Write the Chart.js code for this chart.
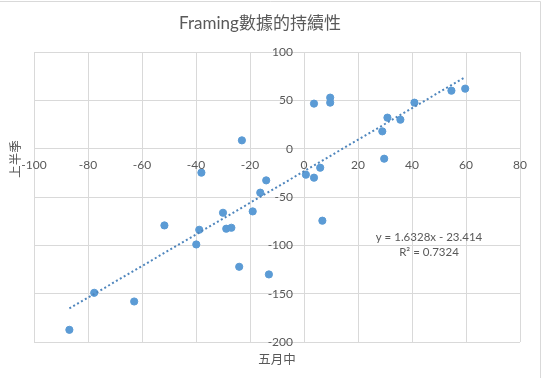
<!DOCTYPE html>
<html>
<head>
<meta charset="utf-8">
<script src="https://cdn.jsdelivr.net/npm/chart.js@4"></script>
<style>
html,body{margin:0;padding:0;background:#fff;}
#wrap{width:542px;height:378px;position:relative;}
</style>
</head>
<body>
<div id="wrap"><canvas id="c" width="542" height="378"></canvas></div>
<script>
const chartTitle = 'Framing數據的持續性';
const xAxisTitle = '五月中';
const yAxisTitle = '上半季';
const xTicks = [-100, -80, -60, -40, -20, 0, 20, 40, 60, 80];
const yTicks = [-200, -150, -100, -50, 0, 50, 100];
const xValues = [-86.9, -77.7, -62.9, -51.7, -38.0, -38.8, -39.9, -30.0, -28.8, -26.9, -24.0, -23.0, -19.0, -16.2, -14.0, -13.0, 0.7, 3.7, 6.0, 6.8, 3.7, 9.7, 9.7, 29.0, 30.9, 29.7, 35.7, 40.9, 54.6, 59.7];
const yValues = [-187.4, -149.1, -158.1, -79.4, -24.8, -83.9, -99.1, -66.3, -82.8, -81.8, -122.2, 8.6, -64.9, -45.5, -32.8, -130.1, -26.9, -30.0, -19.7, -74.5, 46.6, 52.8, 47.6, 17.9, 32.1, -10.4, 30.0, 47.6, 60.0, 62.1];
const trendSlope = 1.6328;
const trendIntercept = -23.414;
const trendR2 = 0.7324;

const points = xValues.map((x, i) => ({x: x, y: yValues[i]}));
const xMinData = Math.min(...xValues);
const xMaxData = Math.max(...xValues);
const trendPoints = [xMinData, xMaxData].map(x => ({x: x, y: trendSlope * x + trendIntercept}));

const textColor = '#595959';
const latin = 'Lato, "Noto Sans CJK TC", sans-serif';

const decor = {
  id: 'decor',
  beforeDraw(chart) {
    const ctx = chart.ctx;
    ctx.save();
    ctx.fillStyle = '#fff';
    ctx.fillRect(0, 0, chart.width, chart.height);
    ctx.strokeStyle = '#d9d9d9';
    ctx.lineWidth = 1;
    ctx.beginPath();
    ctx.moveTo(0, 1.5); ctx.lineTo(540.5, 1.5); ctx.lineTo(540.5, chart.height);
    ctx.stroke();
    ctx.restore();
  },
  afterDraw(chart) {
    const ctx = chart.ctx;
    const xs = chart.scales.x, ys = chart.scales.y;
    ctx.save();
    ctx.fillStyle = textColor;
    // title
    ctx.font = '17px ' + latin;
    ctx.textAlign = 'center';
    ctx.textBaseline = 'middle';
    ctx.fillText(chartTitle, 260, 24);
    // tick labels
    ctx.font = '12px ' + latin;
    const x0 = xs.getPixelForValue(0), y0 = ys.getPixelForValue(0);
    ctx.textAlign = 'right';
    ctx.textBaseline = 'middle';
    yTicks.forEach(v => ctx.fillText(String(v), x0 - 11, ys.getPixelForValue(v)));
    ctx.textAlign = 'center';
    xTicks.forEach(v => ctx.fillText(String(v), xs.getPixelForValue(v), y0 + 16));
    // axis titles
    ctx.font = '12.5px "Noto Sans CJK TC", sans-serif';
    ctx.fillText(xAxisTitle, (xs.left + xs.right) / 2, 359);
    ctx.save();
    ctx.translate(15, 159);
    ctx.rotate(-Math.PI / 2);
    ctx.fillText(yAxisTitle, 0, 0);
    ctx.restore();
    // trendline equation
    ctx.font = '11.5px ' + latin;
    ctx.fillText('y = ' + trendSlope + 'x - ' + Math.abs(trendIntercept), 429, 237);
    ctx.fillText('R² = ' + trendR2, 429, 252);
    ctx.restore();
  }
};

new Chart(document.getElementById('c'), {
  type: 'scatter',
  data: {
    datasets: [
      {
        type: 'line',
        data: trendPoints,
        borderColor: '#4f86bd',
        borderWidth: 2,
        borderDash: [2, 2.5],
        pointRadius: 0,
        fill: false,
        tension: 0
      },
      {
        data: points,
        backgroundColor: '#5b9bd5',
        borderColor: '#5b9bd5',
        pointRadius: 3.6,
        pointHoverRadius: 3.6
      }
    ]
  },
  options: {
    responsive: false,
    animation: false,
    events: [],
    layout: {padding: {left: 34, right: 22, top: 52, bottom: 36}},
    plugins: {legend: {display: false}, title: {display: false}, tooltip: {enabled: false}},
    scales: {
      x: {
        type: 'linear', min: -100, max: 80,
        afterBuildTicks: s => { s.ticks = xTicks.map(v => ({value: v})); },
        ticks: {display: false},
        grid: {color: '#d9d9d9', drawTicks: false, lineWidth: 1},
        border: {display: false}
      },
      y: {
        type: 'linear', min: -200, max: 100,
        afterBuildTicks: s => { s.ticks = yTicks.map(v => ({value: v})); },
        ticks: {display: false},
        grid: {color: '#d9d9d9', drawTicks: false, lineWidth: 1},
        border: {display: false}
      }
    }
  },
  plugins: [decor]
});
</script>
</body>
</html>
